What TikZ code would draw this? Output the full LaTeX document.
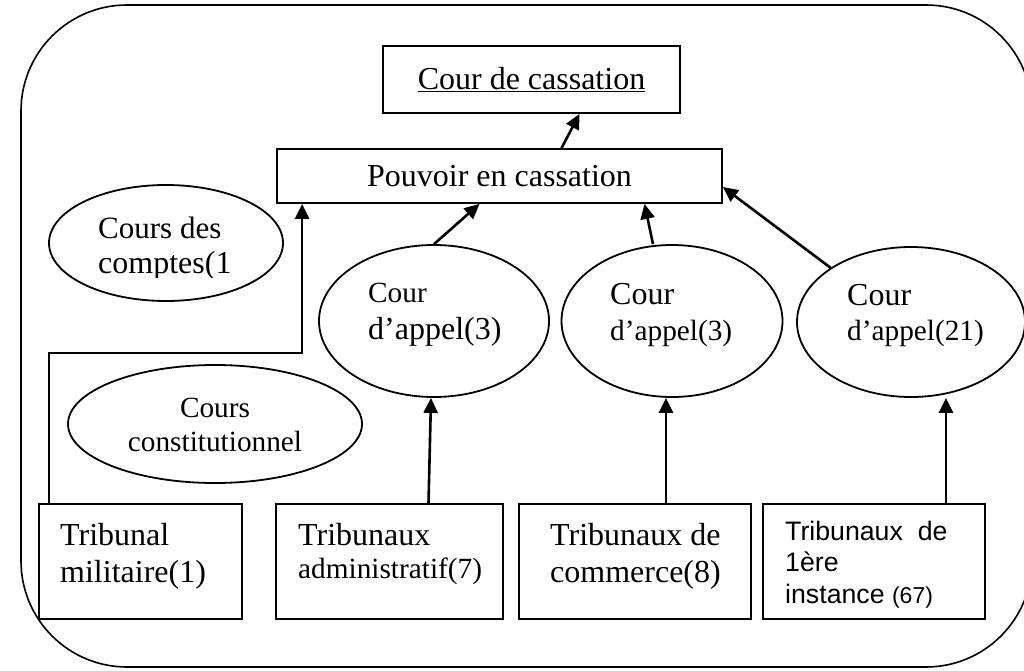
\documentclass[tikz,border=0pt]{standalone}
\usepackage{fontspec}
\setmainfont{Liberation Serif}
\newfontfamily\arialf{Liberation Sans}
\usetikzlibrary{shapes.geometric,arrows.meta,calc}
\newcommand\mystrut{\rule{0pt}{24pt}}
\begin{document}
\begin{tikzpicture}[x=1pt,y=-1pt,
  frame/.style={draw, line width=1.6pt, rounded corners=106pt},
  boxnode/.style={draw, line width=1.8pt, rectangle, inner sep=0pt},
  ellnode/.style={draw, line width=1.8pt, ellipse, inner sep=0pt},
  arr/.style={line width=2.6pt, -{Triangle[length=15pt,width=14pt]}},
  txt/.style={inner sep=0pt, anchor=north west, align=left}]
\useasboundingbox (0,0) rectangle (1024,671);
\clip (0,0) rectangle (1024,671);
% outer frame
\draw[frame] (21,5) rectangle (1032,667);
% top boxes
\node[boxnode, minimum width=297pt, minimum height=67pt, font=\fontsize{32}{37}\selectfont] (cc) at (531.5,79.5) {\underline{Cour de cassation}};
\node[boxnode, minimum width=445pt, minimum height=54pt, font=\fontsize{32}{37}\selectfont] (pc) at (499.5,176) {Pouvoir en cassation};
% Cours des comptes
\node[ellnode, minimum width=234pt, minimum height=116pt] (e0) at (166,243) {};
\begin{scope}
\clip (0,0) rectangle (1024,277.5);
\node[txt, font=\fontsize{32}{35}\selectfont] (t0) at (98,214) {\fontsize{31}{35}\selectfont\mystrut Cours des\\comptes(1};
\end{scope}
% Cours constitutionnel
\node[ellnode, minimum width=294pt, minimum height=118pt] (ek) at (215,424) {};
\node[txt, anchor=north, align=center, font=\fontsize{29.3}{34}\selectfont] (tk) at (215,393) {\mystrut Cours\\constitutionnel};
% Cours d'appel
\node[ellnode, minimum width=230pt, minimum height=152pt] (e1) at (434,321) {};
\node[txt, font=\fontsize{32}{36.5}\selectfont] (t1) at (368,278.5) {\fontsize{29.3}{36.5}\selectfont\mystrut Cour\\d’appel(3)};
\node[ellnode, minimum width=221pt, minimum height=152pt] (e2) at (672,321) {};
\node[txt, font=\fontsize{32}{36}\selectfont] (t2) at (610,280) {\mystrut Cour\\\fontsize{29.3}{36}\selectfont d’appel(3)};
\node[ellnode, minimum width=228pt, minimum height=150pt] (e3) at (911,322) {};
\node[txt, font=\fontsize{32}{35}\selectfont] (t3) at (847,281) {\mystrut Cour\\\fontsize{29.3}{35}\selectfont d’appel(21)};
% bottom boxes
\node[boxnode, minimum width=203pt, minimum height=115pt] (tm) at (140.5,561.5) {};
\node[txt, font=\fontsize{32}{37}\selectfont] (ttm) at (60,521) {\mystrut Tribunal\\militaire(1)};
\node[boxnode, minimum width=227pt, minimum height=115pt] (ta) at (389.5,561.5) {};
\node[txt, font=\fontsize{32}{33.5}\selectfont] (tta) at (298,521) {\mystrut Tribunaux\\\fontsize{29.3}{33.5}\selectfont administratif(7)};
\node[boxnode, minimum width=232pt, minimum height=115pt] (tc) at (635,561.5) {};
\node[txt, font=\fontsize{32}{37}\selectfont] (ttc) at (550,521) {\mystrut Tribunaux de\\commerce(8)};
\node[boxnode, minimum width=222pt, minimum height=115pt] (ti) at (874,561.5) {};
\node[txt, font=\arialf\fontsize{26.7}{31.5}\selectfont] (tti) at (785,516) {\mystrut Tribunaux\ \ de\\1ère\\instance {\fontsize{23}{31.5}\selectfont(67)}};
% connectors
\draw[arr] ([xshift=62pt]pc.north) -- ([xshift=48pt]cc.south);
\draw[arr] (e1.north) -- ([xshift=-20pt]pc.south);
\draw[arr] ([xshift=-19pt]e2.north) -- ([xshift=145pt]pc.south);
\draw[arr] (e3.146) -- ([yshift=-11pt]pc.east);
\draw[arr] ([xshift=11pt]tm.north west) -- ++(0,-150) -| ([xshift=26pt]pc.south west);
\draw[arr] ([xshift=39pt]ta.north) -- ([xshift=-3pt]e1.south);
\coordinate (c2) at ([xshift=31pt]tc.north);
\draw[arr] (c2) -- (c2 |- e2.south);
\coordinate (c3) at ([xshift=72pt]ti.north);
\draw[arr] (c3) -- (c3 |- e3.south);
\end{tikzpicture}
\end{document}
